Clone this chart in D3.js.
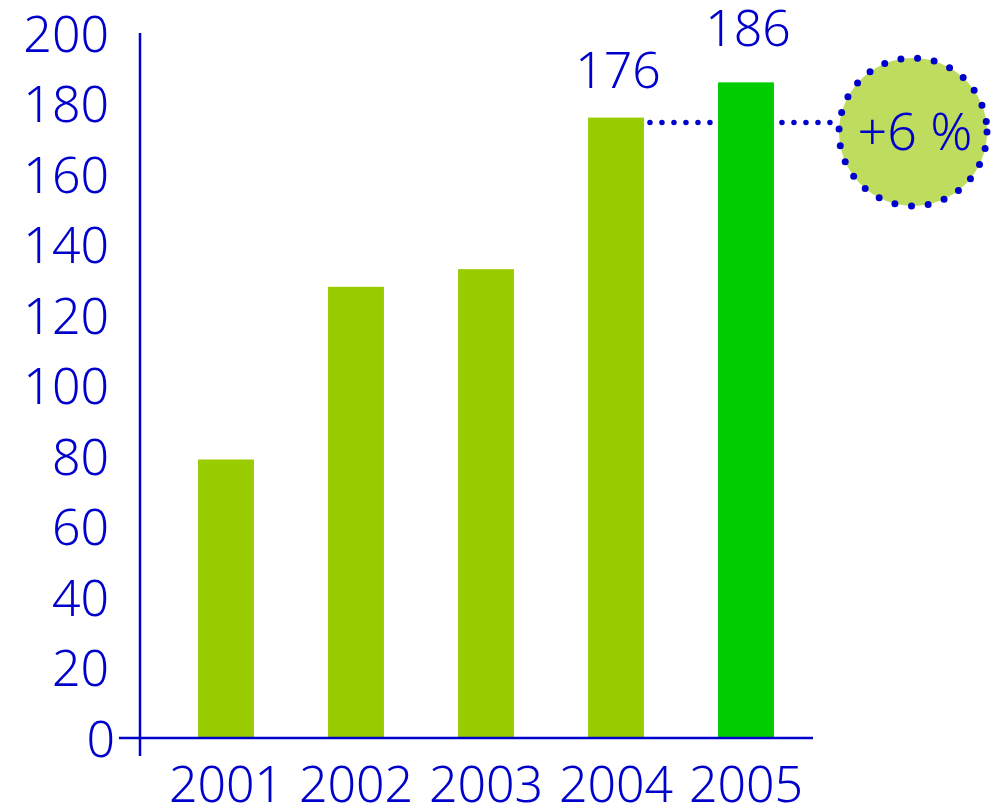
<!DOCTYPE html>
<html>
<head>
<meta charset="utf-8">
<style>
  body { margin: 0; background: #fff; }
  svg text { font-family: 'Noto Sans', sans-serif; font-weight: 350; fill: #0000cc; }
</style>
</head>
<body>
<div id="chart"></div>
<script src="https://d3js.org/d3.v7.min.js"></script>
<script>
  const years = ['2001', '2002', '2003', '2004', '2005'];
  const values = [79, 128, 133, 176, 186];
  const barColors = ['#99cc00', '#99cc00', '#99cc00', '#99cc00', '#00cc00'];
  const labelled = ['2004', '2005'];
  const yTicks = [0, 20, 40, 60, 80, 100, 120, 140, 160, 180, 200];
  const growthLabel = '+6 %';

  const width = 994, height = 809;
  const blue = '#0000cc';

  const svg = d3.select('#chart').append('svg')
    .attr('width', width)
    .attr('height', height);

  const axisX = 140;
  const yScale = d3.scaleLinear().domain([0, 200]).range([738, 33]);
  const xScale = d3.scaleBand()
    .domain(years)
    .range([161, 811])
    .paddingInner(0.57)
    .paddingOuter(0.285);

  // dotted reference line from 2004 value (drawn below bars)
  svg.append('line')
    .attr('x1', xScale('2004') + xScale.bandwidth() + 6)
    .attr('x2', 836)
    .attr('y1', yScale(176) + 5)
    .attr('y2', yScale(176) + 5)
    .attr('stroke', blue)
    .attr('stroke-width', 5.5)
    .attr('stroke-linecap', 'round')
    .attr('stroke-dasharray', '0 12');

  // bars
  svg.selectAll('.bar')
    .data(years)
    .enter()
    .append('rect')
    .attr('class', 'bar')
    .attr('x', d => xScale(d))
    .attr('width', xScale.bandwidth())
    .attr('y', (d, i) => yScale(values[i]))
    .attr('height', (d, i) => yScale(0) - yScale(values[i]))
    .attr('fill', (d, i) => barColors[i]);

  // value labels
  svg.selectAll('.vlabel')
    .data(years.filter(d => labelled.includes(d)))
    .enter()
    .append('text')
    .attr('class', 'vlabel')
    .attr('x', d => xScale(d) + xScale.bandwidth() / 2 + 2)
    .attr('y', d => yScale(values[years.indexOf(d)]) - (d === '2005' ? 36 : 30))
    .attr('text-anchor', 'middle')
    .attr('font-size', '50px')
    .text(d => values[years.indexOf(d)]);

  // y axis
  const yAxis = d3.axisLeft(yScale).tickValues(yTicks).tickSize(0).tickPadding(31);
  const gy = svg.append('g')
    .attr('transform', `translate(${axisX},0)`)
    .call(yAxis);
  gy.select('.domain').remove();
  gy.selectAll('text')
    .attr('font-size', '50px')
    .attr('dy', '0.36em')
    .attr('fill', blue)
    .attr('dx', d => d === 0 ? 6 : 0);

  svg.append('line')
    .attr('x1', axisX).attr('x2', axisX)
    .attr('y1', yScale(200)).attr('y2', yScale(0) + 18)
    .attr('stroke', blue).attr('stroke-width', 2.5);

  // x axis
  const xAxis = d3.axisBottom(xScale).tickSize(0).tickPadding(12);
  const gx = svg.append('g')
    .attr('transform', `translate(0,${yScale(0)})`)
    .call(xAxis);
  gx.select('.domain').remove();
  gx.selectAll('text')
    .attr('font-size', '50px')
    .attr('dy', '1.03em')
    .attr('fill', blue);

  svg.append('line')
    .attr('x1', axisX - 21).attr('x2', 813)
    .attr('y1', yScale(0)).attr('y2', yScale(0))
    .attr('stroke', blue).attr('stroke-width', 2.5);

  // growth badge
  const badge = svg.append('g').attr('transform', 'translate(913,132)');
  badge.append('circle')
    .attr('r', 74)
    .attr('fill', '#bedd5e')
    .attr('stroke', blue)
    .attr('stroke-width', 7)
    .attr('stroke-linecap', 'round')
    .attr('stroke-dasharray', '0 16.8');
  badge.append('text')
    .attr('x', 2)
    .attr('y', 18)
    .attr('text-anchor', 'middle')
    .attr('font-size', '52px')
    .text(growthLabel);
</script>
</body>
</html>
